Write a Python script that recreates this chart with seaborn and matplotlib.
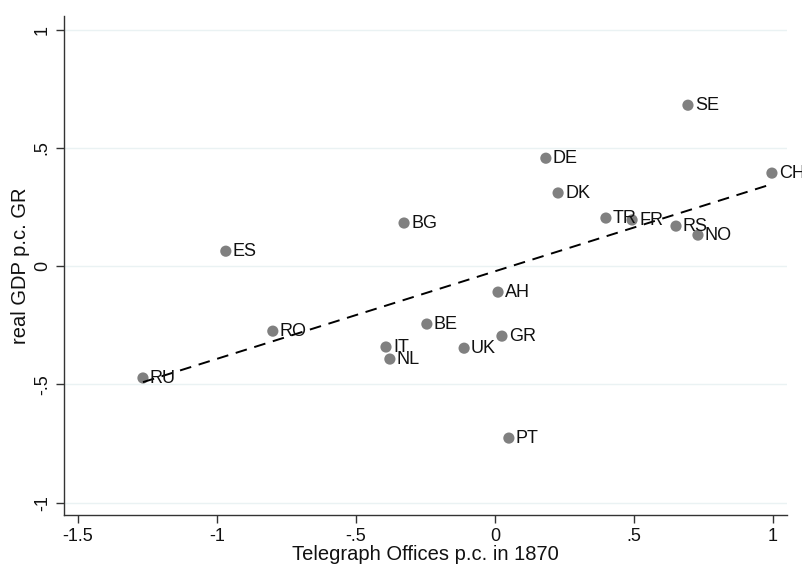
import pandas as pd
import matplotlib.pyplot as plt
import seaborn as sns

# Country codes and values
countries = ['SE', 'DE', 'DK', 'TR', 'FR', 'RS', 'NO', 'CH', 'BG', 'ES',
             'AH', 'BE', 'IT', 'NL', 'UK', 'GR', 'RO', 'RU', 'PT']
telegraph = [0.694, 0.183, 0.227, 0.399, 0.493, 0.651, 0.730, 0.996, -0.327, -0.968,
             0.011, -0.245, -0.392, -0.378, -0.111, 0.025, -0.799, -1.266, 0.050]
gdp_gr = [0.680, 0.456, 0.309, 0.203, 0.195, 0.169, 0.131, 0.393, 0.182, 0.063,
          -0.110, -0.245, -0.342, -0.393, -0.347, -0.296, -0.275, -0.473, -0.727]

x_ticks = [-1.5, -1, -0.5, 0, 0.5, 1]
x_tick_labels = ['-1.5', '-1', '-.5', '0', '.5', '1']
y_ticks = [-1, -0.5, 0, 0.5, 1]
y_tick_labels = ['-1', '-.5', '0', '.5', '1']

df = pd.DataFrame({'country': countries, 'telegraph': telegraph, 'gdp': gdp_gr})

sns.set_style("white")
plt.rcParams['font.family'] = ['Liberation Sans', 'DejaVu Sans']

fig = plt.figure(figsize=(8.03, 5.64), dpi=100)
ax = fig.add_axes([0.0797, 0.0869, 0.9003, 0.8847])

for y in y_ticks:
    ax.axhline(y, color='#eaf2f3', linewidth=1, zorder=0)

sns.scatterplot(data=df, x='telegraph', y='gdp', color='#808080', s=65,
                edgecolor='none', ax=ax, zorder=3)
sns.regplot(data=df, x='telegraph', y='gdp', ci=None, scatter=False, ax=ax,
            line_kws={'color': 'black', 'linestyle': (0, (6, 4)), 'linewidth': 1.4, 'zorder': 4})

for _, r in df.iterrows():
    ax.annotate(r['country'], (r['telegraph'], r['gdp']), xytext=(5, -0.5),
                textcoords='offset points', va='center', ha='left',
                fontsize=13, color='#111111', zorder=5)

ax.set_xlim(-1.55, 1.05)
ax.set_ylim(-1.052, 1.057)
ax.set_xticks(x_ticks)
ax.set_xticklabels(x_tick_labels)
ax.set_yticks(y_ticks)
ax.set_yticklabels(y_tick_labels, rotation=90, va='center')
ax.tick_params(axis='both', direction='out', length=6, width=1, color='#333333',
               labelsize=13, labelcolor='#111111', bottom=True, left=True)
ax.set_xlabel("Telegraph Offices p.c. in 1870", fontsize=14.5, labelpad=0, color='#111111')
ax.set_ylabel("real GDP p.c. GR", fontsize=14.5, labelpad=3, color='#111111')
sns.despine(ax=ax)
for s in ['left', 'bottom']:
    ax.spines[s].set_color('#333333')
    ax.spines[s].set_linewidth(1)

plt.savefig('out.png', dpi=100)
